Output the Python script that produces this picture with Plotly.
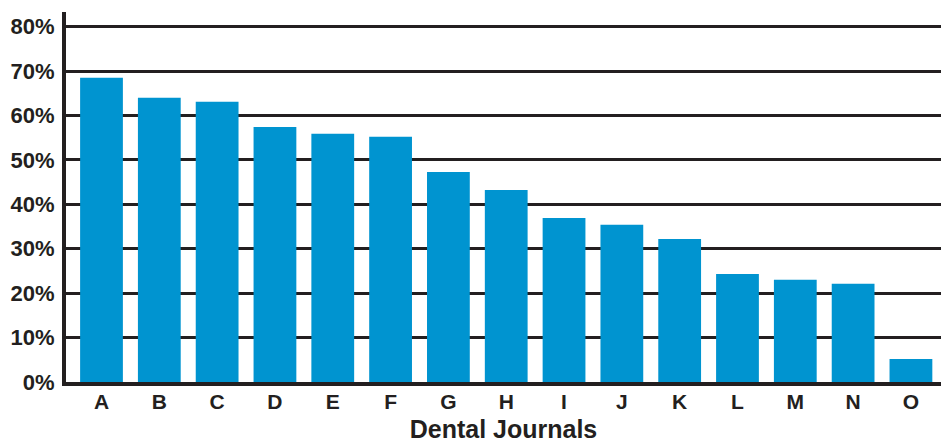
import plotly.graph_objects as go

journals = ["A", "B", "C", "D", "E", "F", "G", "H", "I", "J", "K", "L", "M", "N", "O"]
percent = [68.5, 64.0, 63.1, 57.4, 55.9, 55.2, 47.3, 43.2, 36.9, 35.4, 32.2, 24.3, 23.0, 22.1, 5.2]
y_ticks = [0, 10, 20, 30, 40, 50, 60, 70, 80]
y_tick_labels = ["0%", "10%", "20%", "30%", "40%", "50%", "60%", "70%", "80%"]

ink = "#231f20"
fig = go.Figure(go.Bar(x=journals, y=percent, marker=dict(color="#0094d0", line=dict(width=0)),
                       width=0.74))

fig.update_layout(
    width=941, height=443,
    margin=dict(l=66, r=0, t=12, b=61),
    plot_bgcolor="white", paper_bgcolor="white",
    font=dict(family="Liberation Sans, Arial, sans-serif", color=ink),
    showlegend=False,
    bargap=0.26,
)
fig.update_xaxes(
    range=[-0.614, 14.52],
    tickvals=journals, ticktext=["<b>%s</b>" % j for j in journals],
    showline=True, linecolor=ink, linewidth=4,
    showgrid=False, ticks="",
    tickfont=dict(size=21),
    ticklabelstandoff=-2,
    title=dict(text="<b>Dental Journals</b>", font=dict(size=25), standoff=10),
    automargin=False,
)
fig.update_yaxes(
    range=[0, 83.3],
    tickvals=y_ticks, ticktext=["<b>%s</b>" % t for t in y_tick_labels],
    tickfont=dict(size=22),
    showline=True, linecolor=ink, linewidth=4,
    showgrid=True, gridcolor=ink, gridwidth=3,
    zeroline=False, ticks="",
    ticklabelstandoff=3,
    automargin=False,
)
fig.write_html("out.html")
